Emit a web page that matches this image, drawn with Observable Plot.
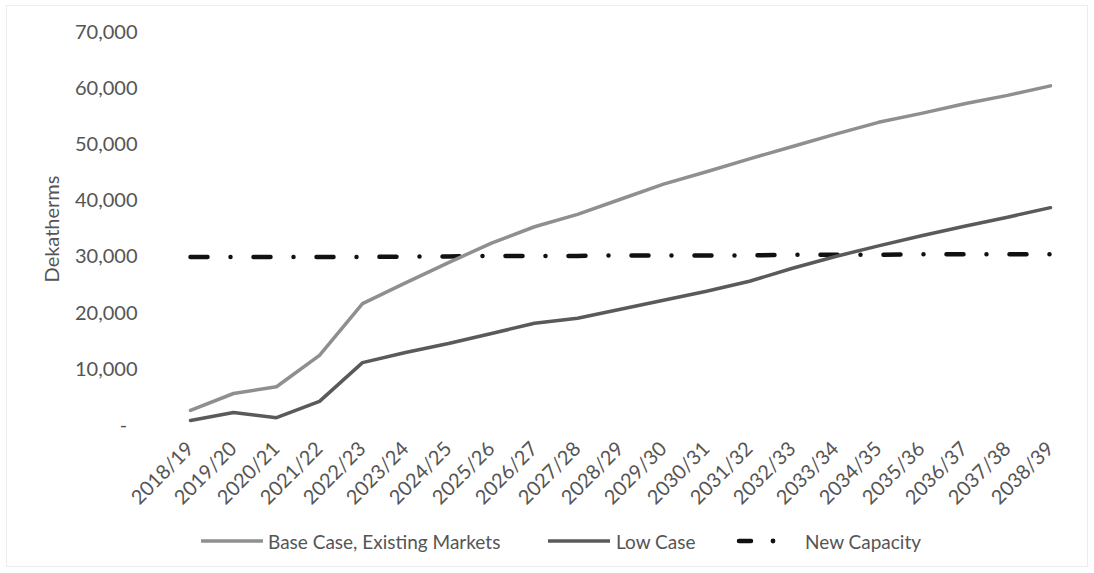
<!DOCTYPE html>
<html>
<head>
<meta charset="utf-8">
<script src="https://cdn.jsdelivr.net/npm/d3@7"></script>
<script src="https://cdn.jsdelivr.net/npm/@observablehq/plot@0.6"></script>
<style>
  html, body { margin: 0; padding: 0; background: #fff; }
  #wrap { position: relative; width: 1094px; height: 573px; overflow: hidden; font-family: Lato, "Open Sans", sans-serif; }
  #frame { position: absolute; left: 6px; top: 5px; width: 1082px; height: 562px; border: 1px solid #ececec; box-sizing: border-box; }
  #chart { position: absolute; left: 0; top: 0; }
  .leg { position: absolute; top: 529px; height: 24px; display: flex; align-items: center; font-size: 19px; color: #555; white-space: nowrap; }
  .leg svg { display: block; }
</style>
</head>
<body>
<div id="wrap">
  <div id="frame"></div>
  <div id="chart"></div>
  <div class="leg" style="left:199px">
    <svg width="66" height="24"><line x1="2" y1="12" x2="64" y2="12" stroke="#8f8f8f" stroke-width="3.5"/></svg>
    <span style="margin-left:3px">Base Case, Existing Markets</span>
  </div>
  <div class="leg" style="left:546px">
    <svg width="66" height="24"><line x1="2" y1="12" x2="64" y2="12" stroke="#5a5a5a" stroke-width="3.5"/></svg>
    <span style="margin-left:4px">Low Case</span>
  </div>
  <div class="leg" style="left:734px">
    <svg width="66" height="24"><line x1="5" y1="12" x2="17" y2="12" stroke="#111" stroke-width="4.5" stroke-linecap="round"/><circle cx="39" cy="12" r="2.4" fill="#111"/></svg>
    <span style="margin-left:5px">New Capacity</span>
  </div>
</div>
<script>
const years = ["2018/19","2019/20","2020/21","2021/22","2022/23","2023/24","2024/25","2025/26","2026/27","2027/28","2028/29","2029/30","2030/31","2031/32","2032/33","2033/34","2034/35","2035/36","2036/37","2037/38","2038/39"];
const baseCase = [2700, 5700, 6900, 12500, 21700, 25400, 29000, 32500, 35400, 37600, 40300, 43000, 45200, 47500, 49700, 51900, 54000, 55600, 57300, 58800, 60500];
const lowCase = [900, 2300, 1400, 4300, 11200, 13000, 14600, 16400, 18200, 19100, 20700, 22300, 23900, 25700, 28000, 30100, 32000, 33800, 35500, 37100, 38800];
const newCapacity = [30000, 30000, 30000, 30000, 30000, 30100, 30100, 30200, 30200, 30200, 30300, 30300, 30300, 30300, 30400, 30400, 30400, 30500, 30500, 30500, 30500];
const yTicks = [0, 10000, 20000, 30000, 40000, 50000, 60000, 70000];
const yLabel = "Dekatherms";

const rows = (vals) => years.map((year, i) => ({year, value: vals[i]}));

const chart = Plot.plot({
  width: 1094,
  height: 520,
  marginLeft: 185,
  marginRight: 39,
  marginTop: 32,
  marginBottom: 95,
  style: {fontFamily: "Lato, 'Open Sans', sans-serif", fontSize: "19px", color: "#555", background: "transparent"},
  x: {type: "point", domain: years, padding: 0},
  y: {domain: [0, 70000]},
  marks: [
    Plot.axisY({ticks: yTicks, tickSize: 0, tickPadding: 48, label: null, fontSize: 20,
      tickFormat: d => d === 0 ? "-\u00a0\u00a0" : d3.format(",")(d)}),
    Plot.axisX({tickRotate: -45, tickSize: 0, tickPadding: 20, label: null, fontSize: 20}),
    Plot.line(rows(newCapacity), {x: "year", y: "value", stroke: "#111", strokeWidth: 4.5, strokeDasharray: "17,23,0,23", strokeLinecap: "round"}),
    Plot.line(rows(baseCase), {x: "year", y: "value", stroke: "#8f8f8f", strokeWidth: 3.5}),
    Plot.line(rows(lowCase), {x: "year", y: "value", stroke: "#5a5a5a", strokeWidth: 3.5}),
    Plot.text([yLabel], {text: d => d, frameAnchor: "left", textAnchor: "middle", dx: -133, rotate: -90, fontSize: 20, fill: "#555"})
  ]
});
document.getElementById("chart").appendChild(chart);
</script>
</body>
</html>
